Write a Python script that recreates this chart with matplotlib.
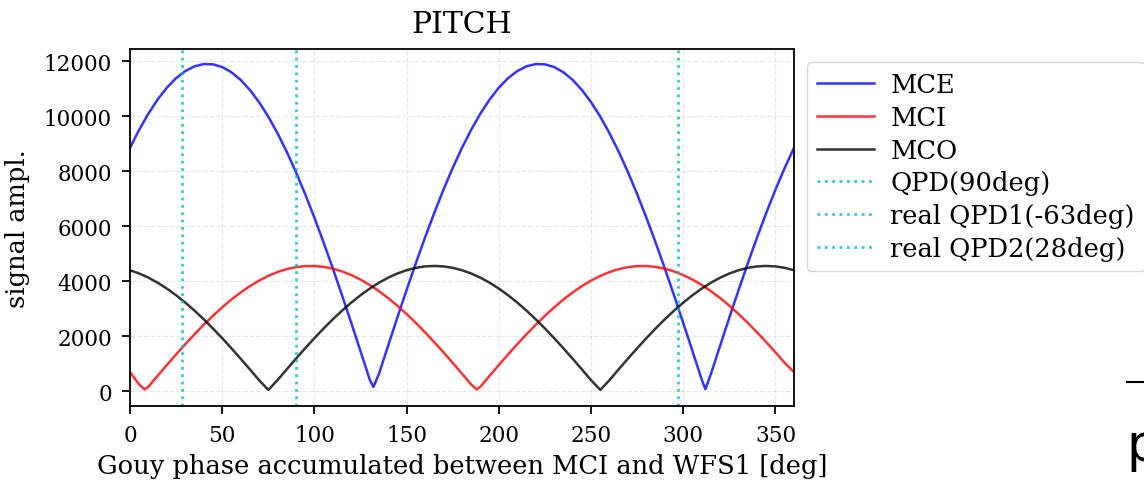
import matplotlib
matplotlib.use("Agg")
from matplotlib import pyplot as plt
from matplotlib.lines import Line2D

plt.rcParams['font.family'] = ['DejaVu Serif']

### -------------------- Donnees ----------------------------------------------- ###
# Phase de Gouy (deg) et amplitude du signal pour chaque miroir
x_mce = [0, 5, 10, 15, 20, 25, 30, 35, 40, 45, 50, 55, 60, 65, 70, 75, 80, 85, 90, 95,
         100, 105, 110, 115, 120, 125, 130, 132, 135, 140, 145, 150, 155, 160, 165, 170,
         175, 180, 185, 190, 195, 200, 205, 210, 215, 220, 225, 230, 235, 240, 245, 250,
         255, 260, 265, 270, 275, 280, 285, 290, 295, 300, 305, 310, 312, 315, 320, 325,
         330, 335, 340, 345, 350, 355, 360]
mce = [8843, 9503, 10091, 10603, 11034, 11380, 11639, 11811, 11893, 11883, 11785, 11595,
       11318, 10954, 10507, 9981, 9377, 8704, 7962, 7161, 6306, 5403, 4458, 3480, 2474,
       1451, 415, 150, 622, 1656, 2678, 3677, 4649, 5587, 6481, 7327, 8116, 8843, 9503,
       10091, 10603, 11034, 11380, 11639, 11811, 11893, 11883, 11785, 11595, 11318, 10954,
       10507, 9981, 9377, 8704, 7962, 7161, 6306, 5403, 4458, 3480, 2474, 1451, 415, 70,
       622, 1656, 2678, 3677, 4649, 5587, 6481, 7327, 8116, 8843]

x_mci = [0, 5, 8, 10, 15, 20, 25, 30, 35, 40, 45, 50, 55, 60, 65, 70, 75, 80, 85, 90, 95,
         100, 105, 110, 115, 120, 125, 130, 135, 140, 145, 150, 155, 160, 165, 170, 175,
         180, 185, 188, 190, 195, 200, 205, 210, 215, 220, 225, 230, 235, 240, 245, 250,
         255, 260, 265, 270, 275, 280, 285, 290, 295, 300, 305, 310, 315, 320, 325, 330,
         335, 340, 345, 350, 355, 360]
mci = [690, 238, 60, 159, 555, 946, 1330, 1704, 2066, 2411, 2738, 3044, 3328, 3585, 3816,
       4017, 4188, 4328, 4434, 4506, 4544, 4547, 4516, 4450, 4351, 4219, 4054, 3858, 3634,
       3381, 3103, 2801, 2478, 2136, 1778, 1406, 1024, 633, 238, 60, 159, 555, 946, 1330,
       1704, 2066, 2411, 2738, 3044, 3328, 3585, 3816, 4017, 4188, 4328, 4434, 4506, 4544,
       4547, 4516, 4450, 4351, 4219, 4054, 3858, 3634, 3381, 3103, 2801, 2478, 2136, 1778,
       1406, 1024, 690]

x_mco = [0, 5, 10, 15, 20, 25, 30, 35, 40, 45, 50, 55, 60, 65, 70, 75, 80, 85, 90, 95,
         100, 105, 110, 115, 120, 125, 130, 135, 140, 145, 150, 155, 160, 165, 170, 175,
         180, 185, 190, 195, 200, 205, 210, 215, 220, 225, 230, 235, 240, 245, 250, 255,
         260, 265, 270, 275, 280, 285, 290, 295, 300, 305, 310, 315, 320, 325, 330, 335,
         340, 345, 350, 355, 360]
mco = [4395, 4276, 4124, 3940, 3727, 3485, 3217, 2925, 2610, 2275, 1923, 1556, 1178, 790,
       397, 40, 397, 790, 1178, 1556, 1923, 2275, 2610, 2925, 3217, 3485, 3727, 3940, 4124,
       4276, 4395, 4481, 4533, 4550, 4533, 4481, 4395, 4276, 4124, 3940, 3727, 3485, 3217,
       2925, 2610, 2275, 1923, 1556, 1178, 790, 397, 40, 397, 790, 1178, 1556, 1923, 2275,
       2610, 2925, 3217, 3485, 3727, 3940, 4124, 4276, 4395, 4481, 4533, 4550, 4533, 4481,
       4395]

# Positions des QPD (deg)
qpd_pos = [90, 28, 297]
qpd_labels = ["QPD(90deg)", "real QPD1(-63deg)", "real QPD2(28deg)"]

x_ticks = [0, 50, 100, 150, 200, 250, 300, 350]
y_ticks = [0, 2000, 4000, 6000, 8000, 10000, 12000]


fig = plt.figure(figsize=(11.44, 4.81), dpi=100)
ax = fig.add_axes([0.1136, 0.1538, 0.5804, 0.7422])

ax.plot(x_mce, mce, color="b", alpha=0.8, lw=1.8, label="MCE")
ax.plot(x_mci, mci, color="r", alpha=0.8, lw=1.8, label="MCI")
ax.plot(x_mco, mco, color="k", alpha=0.8, lw=1.8, label="MCO")
for pos, lab in zip(qpd_pos, qpd_labels):
    ax.axvline(pos, color="c", alpha=0.8, ls=":", lw=2, label=lab)

ax.set_xlim(0, 360)
ax.set_ylim(-545, 12440)
ax.set_xticks(x_ticks)
ax.set_yticks(y_ticks)
ax.tick_params(labelsize=15.5, length=6, width=1.3, pad=7)
for sp in ax.spines.values():
    sp.set_linewidth(1.3)
ax.grid(True, color="0.85", ls="--", lw=0.9, alpha=0.6)
ax.set_xlabel("Gouy phase accumulated between MCI and WFS1 [deg]", fontsize=18.5, labelpad=5)
ax.set_ylabel("signal ampl.", fontsize=18.5, labelpad=10)
ax.set_title("PITCH", fontsize=21.5, pad=12)

fig.legend(*ax.get_legend_handles_labels(), loc="upper left",
           bbox_to_anchor=(0.7054, 0.869), bbox_transform=fig.transFigure,
           borderaxespad=0, fontsize=18.5, handlelength=2.2, labelspacing=0.3,
           handletextpad=0.65)

# Morceaux de la page voisine (coupes a droite)
fig.add_artist(Line2D([0.985, 1.0], [0.204, 0.204], color="k", lw=1.5))
fig.text(0.985, 0.042, "p", fontsize=37, family="DejaVu Sans")

fig.savefig("out.png", dpi=100)
